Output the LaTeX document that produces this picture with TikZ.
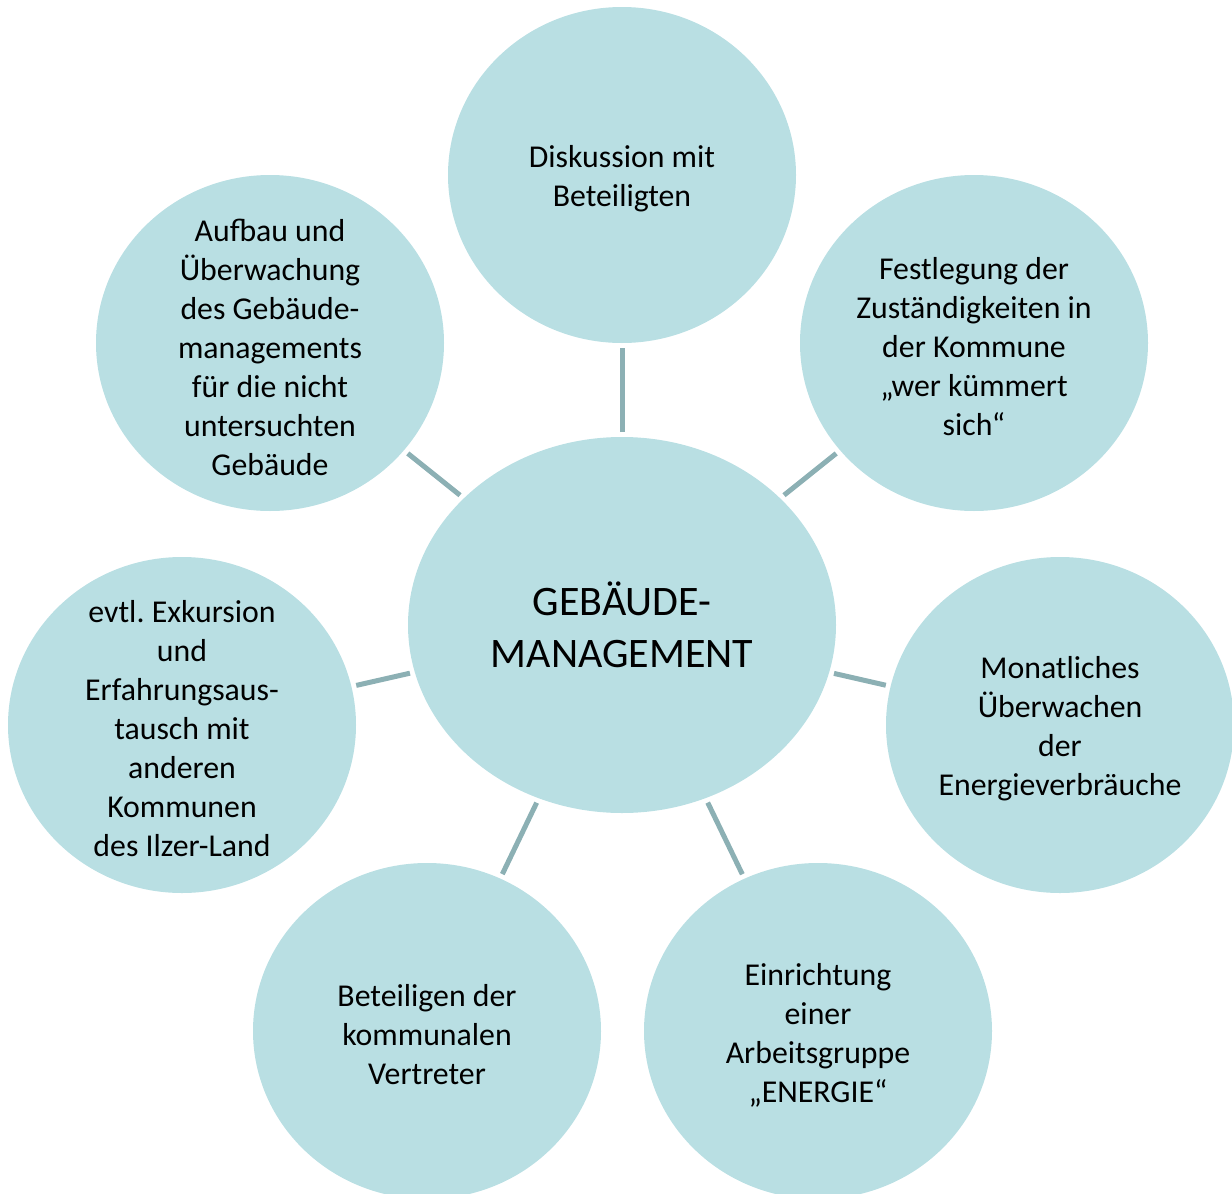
\documentclass[tikz,border=0pt]{standalone}
\usepackage{fontspec}
\setmainfont{Carlito}
\frenchspacing
\usetikzlibrary{shapes.geometric}
\definecolor{bubble}{RGB}{185,223,227}
\definecolor{spokegray}{RGB}{140,176,180}
\tikzstyle{task}=[ellipse,fill=bubble,inner sep=0pt,outer sep=0pt,minimum width=174pt,minimum height=168pt]
\tikzstyle{hub}=[task,minimum width=214pt,minimum height=188pt]
\tikzstyle{tasktext}=[align=center,inner sep=0pt,yshift=-2pt,font=\fontsize{15.9pt}{19.5pt}\selectfont]
\tikzstyle{hubtext}=[align=center,inner sep=0pt,font=\fontsize{21pt}{26pt}\selectfont]
\tikzstyle{spoke}=[line width=2.5pt,draw=spokegray,shorten <=2.5pt,shorten >=2.5pt]
% bubble of fixed size, text laid on top so it cannot grow the shape
\newcommand\bubble[4][task]{%
  \node[#1] (#2) at (#3) {};
  \node[#1text] (#2-txt) at (#2.center) {#4};
}

\begin{document}
\begin{tikzpicture}[x=0.5pt,y=-0.5pt]
	\useasboundingbox (0,0) rectangle (1232,1194);
	\clip (0,0) rectangle (1232,1194);
	\bubble[hub]{gm}{622,625}{GEBÄUDE-\\MANAGEMENT}
	\bubble{disk}{622,175}{Diskussion mit\\Beteiligten}
	\bubble{zust}{974,343}{Festlegung der\\Zuständigkeiten in\\der Kommune\\„wer kümmert\\sich“}
	\bubble{mon}{1060,725}{Monatliches\\Überwachen\\der\\Energieverbräuche}
	\bubble{ag}{818,1031}{Einrichtung\\einer\\Arbeitsgruppe\\„ENERGIE“}
	\bubble{vert}{427,1031}{Beteiligen der\\kommunalen\\Vertreter}
	\bubble{exk}{182,725}{evtl. Exkursion\\und\\Erfahrungsaus-\\tausch mit\\anderen\\Kommunen\\des Ilzer-Land}
	\bubble{aufb}{270,343}{Aufbau und\\Überwachung\\des Gebäude-\\managements\\für die nicht\\untersuchten\\Gebäude}
	\foreach \n in {disk,zust,mon,ag,vert,exk,aufb}
		\draw[spoke] (gm) -- (\n);
\end{tikzpicture}
\end{document}
